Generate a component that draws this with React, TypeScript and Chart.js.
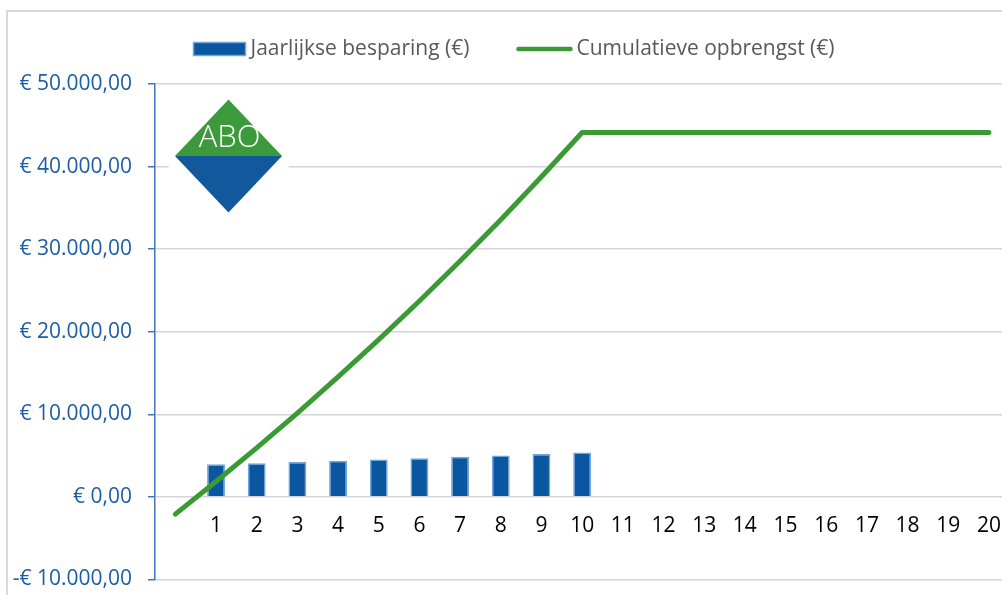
import React, { useEffect, useRef } from "react";
import { Chart, registerables } from "chart.js";

Chart.register(...registerables);

// Year labels along the horizontal axis (year 0 carries no label)
const YEARS = ["", "1", "2", "3", "4", "5", "6", "7", "8", "9", "10", "11", "12", "13", "14", "15", "16", "17", "18", "19", "20"];

// Yearly saving per year (€), only years 1–10
const ANNUAL_SAVING = [null, 3950, 4080, 4220, 4370, 4520, 4680, 4840, 5010, 5190, 5370, null, null, null, null, null, null, null, null, null, null];

// Cumulative return (€), starting from the initial investment in year 0
const CUMULATIVE = [-2100, 1850, 5930, 10150, 14520, 19040, 23720, 28560, 33570, 38760, 44130, 44130, 44130, 44130, 44130, 44130, 44130, 44130, 44130, 44130, 44130];

const LEGEND_BAR = "Jaarlijkse besparing (€)";
const LEGEND_LINE = "Cumulatieve opbrengst (€)";

const Y_MIN = -10000;
const Y_MAX = 50000;
const Y_STEP = 10000;

const BAR_FILL = "#0a56a0";
const BAR_EDGE = "#6fa6dc";
const LINE_GREEN = "#3a9b35";
const AXIS_BLUE = "#4472c4";
const LABEL_BLUE = "#1c5da6";
const GRID_GRAY = "#d4d4d4";
const FONT = '"Open Sans", "DejaVu Sans", sans-serif';

function euro(v: number): string {
  const abs = Math.abs(v);
  const whole = Math.floor(abs).toString().replace(/\B(?=(\d{3})+(?!\d))/g, ".");
  return (v < 0 ? "-" : "") + "€ " + whole + ",00";
}

const legendPlugin = {
  id: "topLegend",
  afterDraw(chart: any) {
    const ctx = chart.ctx as CanvasRenderingContext2D;
    ctx.save();
    ctx.font = `21px ${FONT}`;
    const w1 = ctx.measureText(LEGEND_BAR).width;
    const w2 = ctx.measureText(LEGEND_LINE).width;
    const total = 52 + 5 + w1 + 47 + 56 + 4 + w2;
    let x = 514 - total / 2;
    const cy = 49;
    // bar swatch
    ctx.fillStyle = BAR_FILL;
    ctx.fillRect(x, cy - 6.5, 52, 13);
    ctx.strokeStyle = BAR_EDGE;
    ctx.lineWidth = 1.5;
    ctx.strokeRect(x, cy - 6.5, 52, 13);
    x += 52 + 5;
    ctx.fillStyle = "#595959";
    ctx.textBaseline = "middle";
    ctx.textAlign = "left";
    ctx.fillText(LEGEND_BAR, x, cy);
    x += w1 + 47;
    // line swatch
    ctx.strokeStyle = LINE_GREEN;
    ctx.lineWidth = 4.5;
    ctx.lineCap = "round";
    ctx.beginPath();
    ctx.moveTo(x + 2, cy);
    ctx.lineTo(x + 54, cy);
    ctx.stroke();
    x += 56 + 4;
    ctx.fillText(LEGEND_LINE, x, cy);
    ctx.restore();
  },
};

const logoPlugin = {
  id: "aboLogo",
  beforeDatasetsDraw(chart: any) {
    const ctx = chart.ctx as CanvasRenderingContext2D;
    const a = chart.chartArea;
    const cx = a.left + 73.5;
    const cy = a.top + 72;
    const hw = 53.5;
    const hh = 56.5;
    ctx.save();
    ctx.fillStyle = "#ffffff";
    ctx.fillRect(cx - 60, cy - 59, 120, 118);
    // upper green half
    ctx.fillStyle = "#3d9a3c";
    ctx.beginPath();
    ctx.moveTo(cx, cy - hh);
    ctx.lineTo(cx + hw, cy);
    ctx.lineTo(cx - hw, cy);
    ctx.closePath();
    ctx.fill();
    // lower blue half
    ctx.fillStyle = "#11589d";
    ctx.beginPath();
    ctx.moveTo(cx - hw, cy);
    ctx.lineTo(cx + hw, cy);
    ctx.lineTo(cx, cy + hh);
    ctx.closePath();
    ctx.fill();
    ctx.fillStyle = "#ffffff";
    ctx.font = `300 31px ${FONT}`;
    ctx.textAlign = "center";
    ctx.textBaseline = "middle";
    ctx.fillText("ABO", cx + 1, cy - 18);
    ctx.restore();
  },
};

export default function App() {
  const canvasRef = useRef<HTMLCanvasElement | null>(null);

  useEffect(() => {
    const canvas = canvasRef.current;
    if (!canvas) return;
    const chart = new Chart(canvas, {
      type: "bar",
      data: {
        labels: YEARS,
        datasets: [
          {
            type: "line",
            label: LEGEND_LINE,
            data: CUMULATIVE,
            borderColor: LINE_GREEN,
            borderWidth: 5,
            borderCapStyle: "round",
            borderJoinStyle: "round",
            pointRadius: 0,
            tension: 0,
            order: 0,
          } as any,
          {
            type: "bar",
            label: LEGEND_BAR,
            data: ANNUAL_SAVING,
            backgroundColor: BAR_FILL,
            borderColor: BAR_EDGE,
            borderWidth: 1.5,
            categoryPercentage: 1,
            barPercentage: 0.44,
            order: 1,
          } as any,
        ],
      },
      options: {
        responsive: false,
        animation: false,
        layout: { padding: { top: 84, bottom: 16, left: 0, right: 2 } },
        plugins: {
          legend: { display: false },
          tooltip: { enabled: false },
        },
        scales: {
          x: {
            position: { y: 0 } as any,
            offset: true,
            grid: { display: false, drawTicks: false },
            border: { display: false },
            ticks: {
              color: "#000000",
              font: { family: FONT, size: 21 },
              padding: 17,
              maxRotation: 0,
              autoSkip: false,
            },
            afterFit(scale: any) {
              scale.height = 0;
            },
          },
          y: {
            min: Y_MIN,
            max: Y_MAX,
            grid: {
              color: GRID_GRAY,
              lineWidth: 1.5,
              tickColor: AXIS_BLUE,
              tickLength: 7,
              tickWidth: 1.5,
            },
            border: { color: AXIS_BLUE, width: 1.5 },
            ticks: {
              stepSize: Y_STEP,
              color: LABEL_BLUE,
              font: { family: FONT, size: 21 },
              padding: 16,
              callback: (v: any) => euro(Number(v)),
            },
            afterFit(scale: any) {
              scale.width = 155;
            },
          },
        },
      },
      plugins: [legendPlugin, logoPlugin],
    });
    return () => chart.destroy();
  }, []);

  return (
    <div
      style={{
        position: "fixed",
        left: 0,
        top: 0,
        width: 1002,
        height: 595,
        overflow: "hidden",
        background: "#ffffff",
      }}
    >
      <div
        style={{
          position: "absolute",
          left: 6,
          top: 10,
          width: 1040,
          height: 620,
          borderLeft: "2px solid #d9d9d9",
          borderTop: "2px solid #d9d9d9",
        }}
      />
      <canvas
        ref={canvasRef}
        width={1018}
        height={608}
        style={{ position: "absolute", left: 0, top: 0, width: 1018, height: 608 }}
      />
    </div>
  );
}
